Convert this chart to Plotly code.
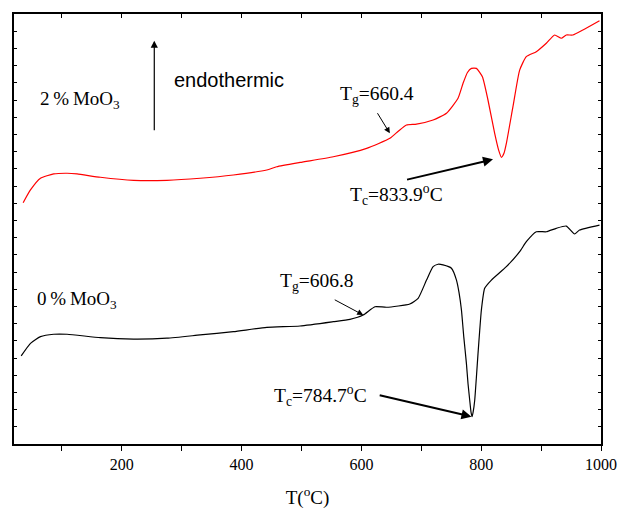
import plotly.graph_objects as go

# Temperature (°C) and DSC signal (arbitrary units) for 2% MoO3 (red)
t_2 = [35.3, 47.5, 64.2, 86.3, 108.7, 125.3, 164.2, 219.7, 275.3, 330.8, 386.3, 442, 458.7,
       497.5, 553, 608.7, 647.5, 662, 675.3, 692, 719.7, 742, 761.3, 769.7, 777, 783.7, 792,
       802, 811.3, 822.5, 829, 833.7, 838, 842, 853, 864.2, 875.3, 892, 908.7, 922.5, 933.7,
       942, 953, 969.7, 997.5]
s_2 = [14.03, 14.77, 15.45, 15.70, 15.74, 15.70, 15.51, 15.33, 15.33, 15.45, 15.64, 15.93, 16.12,
       16.37, 16.70, 17.19, 17.77, 18.2, 18.55, 18.60, 18.84, 19.23, 20.10, 20.97, 21.6, 21.84, 21.84,
       21.35, 20.0, 18.06, 17.1, 16.67, 16.9, 17.48, 19.61, 21.74, 22.52, 22.81, 23.30, 23.78, 23.59,
       23.78, 23.78, 24.07, 24.61]

# 0% MoO3 (black)
t_0 = [32, 47.5, 64.2, 86.3, 108.7, 164.2, 219.7, 275.3, 330.8, 386.3, 442, 497.5, 553, 580.8,
       603, 622.5, 642, 680.8, 694.7, 708.7, 719.7, 728, 736.3, 750.3, 758.7, 763, 767, 771, 775.3,
       778, 780.8, 783, 784.7, 786.5, 789.2, 792, 794.7, 797.5, 800.3, 805.8, 817, 842, 864.2,
       875.3, 892, 908.7, 925.3, 942, 955.8, 964.2, 997.5]
s_0 = [5.12, 5.85, 6.24, 6.38, 6.38, 6.18, 6.10, 6.15, 6.34, 6.53, 6.78, 6.86, 7.11, 7.25,
       7.50, 7.98, 7.95, 8.14, 8.47, 9.53, 10.31, 10.45, 10.41, 10.22, 9.53, 8.8, 7.79, 6.2, 4.69,
       3.5, 2.56, 1.85, 1.59, 1.85, 2.56, 3.9, 5.27, 6.6, 7.79, 9.05, 9.53, 10.31, 11.18,
       11.76, 12.34, 12.34, 12.54, 12.67, 12.21, 12.44, 12.73]

x_ticks = [200, 400, 600, 800, 1000]
x_range = [20, 1000]
y_range = [0, 25]

SERIF = "Liberation Serif"
SANS = "Liberation Sans"
TS = "\u2009"  # thin space

fig = go.Figure()
fig.add_trace(go.Scatter(x=t_2, y=s_2, mode="lines", line=dict(color="#ff0000", width=1.2, shape="spline", smoothing=0.5),
                         showlegend=False, hoverinfo="skip"))
fig.add_trace(go.Scatter(x=t_0, y=s_0, mode="lines", line=dict(color="#000000", width=1.2, shape="spline", smoothing=0.5),
                         showlegend=False, hoverinfo="skip"))
# dummy trace to anchor the top axis
fig.add_trace(go.Scatter(x=[x_range[0]], y=[y_range[0]], xaxis="x2", mode="markers",
                         marker=dict(opacity=0), showlegend=False, hoverinfo="skip"))

ann = []
def label(x, y, text, size=19.5, font=SERIF, xanchor="left"):
    ann.append(dict(x=x, y=y, xref="x", yref="y", text=text, showarrow=False,
                    xanchor=xanchor, yanchor="middle", font=dict(family=font, size=size, color="black")))

def arrow(x0, y0, x1, y1, w=1.0, head=2, size=1.0):
    ann.append(dict(x=x1, y=y1, ax=x0, ay=y0, xref="x", yref="y", axref="x", ayref="y",
                    text="", showarrow=True, arrowhead=head, arrowsize=size, arrowwidth=w,
                    arrowcolor="black", standoff=0, startstandoff=0))

label(60.8, 20.0, "2" + TS + "%" + TS + "MoO<sub>3</sub>", size=19)
label(55.8, 8.4, "0" + TS + "%" + TS + "MoO<sub>3</sub>", size=19)
label(283.7, 21.16, "endothermic", size=20, font=SANS)
arrow(254.2, 18.16, 254.2, 23.45, w=1.2, head=2, size=1.2)

label(560.8, 20.3, "T<sub>g</sub>=660.4")
arrow(625.3, 19.32, 647.5, 18.06, w=1.0, head=2, size=1.2)
label(577.5, 14.5, "T<sub>c</sub>=833.9<sup>o</sup>C")
arrow(673.7, 15.35, 819.7, 16.55, w=2.0, head=2, size=1.0)

label(461.4, 9.39, "T<sub>g</sub>=606.8")
arrow(553, 8.43, 603, 7.5, w=1.0, head=2, size=1.2)
label(450.8, 2.8, "T<sub>c</sub>=784.7<sup>o</sup>C")
arrow(628, 2.85, 783.7, 1.59, w=2.0, head=2, size=1.0)

fig.update_layout(
    width=618, height=513,
    margin=dict(l=13.5, r=16.5, t=14, b=69),
    paper_bgcolor="white", plot_bgcolor="white",
    annotations=ann,
    xaxis=dict(range=x_range, tickvals=x_ticks, ticks="outside", ticklen=5, tickwidth=1.2, automargin=False,
               tickcolor="black", minor=dict(dtick=100, tick0=0, ticks="outside", ticklen=5, tickwidth=1.2, tickcolor="black"),
               showline=True, linecolor="black", linewidth=1.5, showgrid=False, zeroline=False,
               tickfont=dict(family=SERIF, size=16, color="black"),
               title=dict(text="T(<sup>o</sup>C)", font=dict(family=SERIF, size=19, color="black"), standoff=19)),
    xaxis2=dict(range=x_range, overlaying="x", side="top", tickvals=x_ticks, ticks="inside", ticklen=4,
                tickwidth=1, tickcolor="black", minor=dict(dtick=100, tick0=0, ticks="inside", ticklen=4, tickcolor="black"),
                showticklabels=False, showline=True, linecolor="black", linewidth=1.5, automargin=False,
                showgrid=False, zeroline=False),
    yaxis=dict(range=y_range, dtick=1, tick0=0, ticks="inside", ticklen=3, tickwidth=1, tickcolor="black",
               showticklabels=False, showline=True, linecolor="black", linewidth=1.5, mirror="ticks", automargin=False,
               showgrid=False, zeroline=False),
)

fig.write_html("out.html", config={"displayModeBar": False},
               post_script="document.body.style.margin='0';document.body.style.overflow='hidden';")
